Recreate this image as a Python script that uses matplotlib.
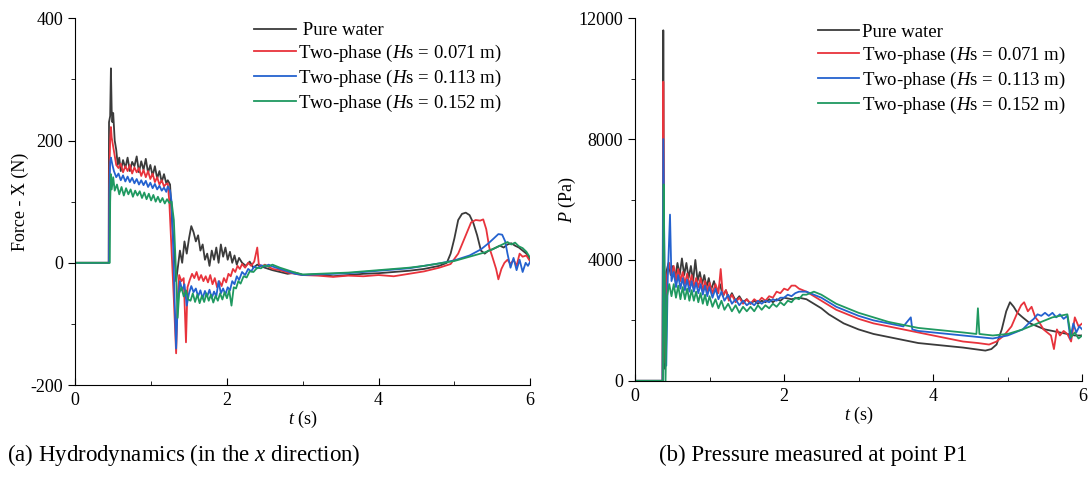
import matplotlib
matplotlib.use("Agg")
import matplotlib.pyplot as plt
from matplotlib.ticker import MultipleLocator

plt.rcParams['font.family'] = ['Liberation Serif', 'DejaVu Serif']
plt.rcParams['mathtext.fontset'] = 'custom'
plt.rcParams['mathtext.rm'] = 'Liberation Serif'
plt.rcParams['mathtext.it'] = 'Liberation Serif:italic'
plt.rcParams['axes.unicode_minus'] = False

labels_a = [" Pure water", "Two-phase ($H$s = 0.071 m)",
            "Two-phase ($H$s = 0.113 m)", "Two-phase ($H$s = 0.152 m)"]
labels_b = ["Pure water", "Two-phase ($H$s = 0.071 m)",
            "Two-phase ($H$s = 0.113 m)", "Two-phase ($H$s = 0.152 m)"]
colors = ["#3b3b3b", "#e8333c", "#2462cf", "#1f9960"]

# ---------------- (a) Force - X (N) vs t (s) ----------------
force_pure = [(0,0),(0.44,0),(0.445,230),(0.46,240),(0.47,318),(0.48,250),(0.49,230),(0.50,245),
    (0.52,200),(0.54,185),(0.56,160),(0.58,172),(0.60,150),(0.63,168),(0.66,155),(0.69,172),
    (0.72,150),(0.75,165),(0.78,158),(0.81,174),(0.84,148),(0.87,166),(0.90,152),(0.93,170),
    (0.96,147),(0.99,160),(1.02,142),(1.05,158),(1.08,138),(1.11,150),(1.14,132),(1.17,145),
    (1.20,130),(1.22,135),(1.25,128),(1.28,60),(1.31,10),(1.33,-30),(1.35,-10),(1.38,20),
    (1.41,0),(1.44,35),(1.47,15),(1.50,40),(1.53,60),(1.56,50),(1.59,35),(1.62,45),(1.65,20),
    (1.68,30),(1.71,5),(1.74,15),(1.77,-5),(1.80,20),(1.83,5),(1.86,25),(1.89,0),(1.92,30),
    (1.95,10),(1.98,25),(2.01,5),(2.04,18),(2.07,0),(2.10,12),(2.13,-3),(2.16,8),(2.20,0),
    (2.25,-5),(2.30,2),(2.35,-8),(2.40,-3),(2.50,-8),(2.60,-12),(2.70,-15),(2.80,-18),
    (2.90,-16),(3.00,-20),(3.20,-19),(3.40,-22),(3.60,-20),(3.80,-18),(4.00,-17),(4.20,-15),
    (4.40,-13),(4.60,-10),(4.80,-5),(4.90,0),(4.95,15),(5.00,40),(5.05,70),(5.10,80),(5.15,82),
    (5.20,78),(5.25,65),(5.30,45),(5.35,20),(5.40,15),(5.45,20),(5.50,22),(5.55,25),(5.60,28),
    (5.65,25),(5.70,30),(5.75,32),(5.80,28),(5.85,25),(5.90,20),(5.95,15),(6.00,5)]

force_071 = [(0,0),(0.445,0),(0.45,150),(0.46,200),(0.47,222),(0.48,205),(0.50,190),(0.52,175),
    (0.54,160),(0.57,155),(0.60,162),(0.63,148),(0.66,158),(0.69,150),(0.72,160),(0.75,146),
    (0.78,156),(0.81,148),(0.84,155),(0.87,142),(0.90,152),(0.93,140),(0.96,150),(0.99,137),
    (1.02,146),(1.05,132),(1.08,140),(1.11,128),(1.14,135),(1.17,125),(1.19,128),(1.22,130),
    (1.24,100),(1.27,20),(1.30,-60),(1.33,-148),(1.35,-60),(1.37,-20),(1.40,-30),(1.43,-25),
    (1.46,-130),(1.48,-40),(1.51,-28),(1.54,-18),(1.57,-25),(1.60,-15),(1.63,-28),(1.66,-20),
    (1.69,-30),(1.72,-22),(1.75,-32),(1.78,-20),(1.81,-35),(1.84,-25),(1.87,-40),(1.90,-30),
    (1.93,-38),(1.96,-25),(1.99,-32),(2.02,-18),(2.05,-22),(2.08,-10),(2.11,-15),(2.14,-5),
    (2.17,-10),(2.20,-2),(2.24,-8),(2.28,0),(2.32,-5),(2.36,2),(2.40,25),(2.42,-2),(2.46,-6),
    (2.50,-3),(2.6,-10),(2.7,-12),(2.8,-16),(2.9,-18),(3.0,-20),(3.2,-21),(3.4,-23),(3.6,-21),
    (3.8,-22),(4.0,-20),(4.2,-22),(4.4,-18),(4.6,-14),(4.8,-8),(4.95,-2),(5.05,15),(5.15,45),
    (5.22,66),(5.28,70),(5.34,69),(5.38,71),(5.42,55),(5.46,25),(5.50,10),(5.55,-10),(5.58,-27),
    (5.62,-10),(5.66,0),(5.70,5),(5.74,-2),(5.78,5),(5.82,-5),(5.86,15),(5.90,10),(5.95,12),
    (6.0,2)]

force_113 = [(0,0),(0.445,0),(0.45,120),(0.46,165),(0.47,172),(0.49,160),(0.51,150),(0.54,140),
    (0.57,146),(0.60,135),(0.63,143),(0.66,133),(0.69,141),(0.72,132),(0.75,139),(0.78,130),
    (0.81,137),(0.84,128),(0.87,135),(0.90,127),(0.93,134),(0.96,124),(0.99,131),(1.02,122),
    (1.05,129),(1.08,120),(1.11,126),(1.14,118),(1.17,123),(1.20,116),(1.22,125),(1.25,118),
    (1.27,100),(1.29,30),(1.31,-60),(1.33,-140),(1.35,-70),(1.38,-30),(1.41,-45),(1.44,-35),
    (1.47,-70),(1.50,-50),(1.53,-38),(1.56,-48),(1.59,-42),(1.62,-55),(1.65,-45),(1.68,-58),
    (1.71,-46),(1.74,-55),(1.77,-44),(1.80,-58),(1.83,-47),(1.86,-55),(1.89,-30),(1.92,-50),
    (1.95,-42),(1.98,-52),(2.01,-40),(2.04,-45),(2.07,-30),(2.10,-35),(2.13,-22),(2.16,-28),
    (2.20,-15),(2.24,-20),(2.28,-10),(2.32,-14),(2.36,-6),(2.40,-9),(2.45,-4),(2.50,-6),
    (2.55,-3),(2.6,-6),(2.7,-10),(2.8,-14),(2.9,-18),(3.0,-20),(3.2,-19),(3.4,-18),(3.6,-17),
    (3.8,-15),(4.0,-13),(4.2,-11),(4.4,-9),(4.6,-5),(4.8,-1),(5.0,4),(5.2,12),(5.35,22),
    (5.45,32),(5.52,40),(5.58,47),(5.63,46),(5.67,35),(5.70,15),(5.74,-8),(5.78,8),(5.82,-12),
    (5.86,5),(5.90,-15),(5.94,0),(5.97,-5),(6.0,2)]

force_152 = [(0,0),(0.455,0),(0.46,100),(0.47,145),(0.48,120),(0.50,140),(0.52,118),(0.55,128),
    (0.58,112),(0.61,124),(0.64,110),(0.67,122),(0.70,112),(0.73,120),(0.76,108),(0.79,118),
    (0.82,110),(0.85,117),(0.88,106),(0.91,115),(0.94,104),(0.97,113),(1.00,102),(1.03,111),
    (1.06,100),(1.09,108),(1.12,99),(1.15,106),(1.18,97),(1.21,104),(1.24,98),(1.27,100),
    (1.30,70),(1.33,-20),(1.35,-90),(1.37,-50),(1.40,-40),(1.43,-55),(1.46,-45),(1.49,-60),
    (1.52,-62),(1.55,-50),(1.58,-64),(1.61,-52),(1.64,-66),(1.67,-54),(1.70,-64),(1.73,-50),
    (1.76,-62),(1.79,-52),(1.82,-65),(1.85,-54),(1.88,-62),(1.91,-50),(1.94,-60),(1.97,-48),
    (2.00,-58),(2.03,-45),(2.06,-70),(2.09,-40),(2.12,-42),(2.15,-30),(2.18,-34),(2.22,-22),
    (2.26,-24),(2.30,-14),(2.35,-15),(2.40,-8),(2.45,-9),(2.50,-4),(2.55,-6),(2.6,-3),(2.7,-8),
    (2.8,-12),(2.9,-16),(3.0,-19),(3.2,-18),(3.4,-17),(3.6,-16),(3.8,-14),(4.0,-12),(4.2,-10),
    (4.4,-8),(4.6,-5),(4.8,-1),(5.0,3),(5.2,10),(5.4,17),(5.5,22),(5.6,28),(5.7,34),(5.75,30),
    (5.8,33),(5.85,27),(5.9,24),(5.95,18),(6.0,8)]

# ---------------- (b) P (Pa) at P1 vs t (s) ----------------
pres_pure = [(0,0),(0.37,0),(0.38,11600),(0.39,3000),(0.40,400),(0.42,3600),(0.45,3900),
    (0.48,3500),(0.51,3800),(0.54,3400),(0.57,3900),(0.60,3500),(0.63,4050),(0.66,3500),
    (0.69,3900),(0.72,3400),(0.75,3800),(0.78,3300),(0.81,4000),(0.84,3300),(0.87,3600),
    (0.90,3200),(0.93,3500),(0.96,3100),(0.99,3400),(1.02,3000),(1.06,3300),(1.10,2900),
    (1.14,3200),(1.18,2800),(1.22,3000),(1.26,2700),(1.30,2900),(1.35,2650),(1.40,2800),
    (1.45,2600),(1.50,2700),(1.55,2550),(1.60,2650),(1.65,2550),(1.70,2650),(1.75,2600),
    (1.80,2700),(1.85,2600),(1.90,2700),(1.95,2650),(2.00,2750),(2.10,2700),(2.20,2750),
    (2.30,2700),(2.40,2550),(2.50,2400),(2.60,2200),(2.70,2050),(2.80,1900),(2.90,1800),
    (3.00,1700),(3.20,1550),(3.40,1450),(3.60,1350),(3.80,1250),(4.00,1200),(4.20,1150),
    (4.40,1100),(4.55,1050),(4.70,1000),(4.78,1050),(4.85,1200),(4.92,1700),(4.98,2300),
    (5.03,2600),(5.08,2450),(5.13,2250),(5.20,2100),(5.30,1900),(5.40,1800),(5.50,1700),
    (5.60,1650),(5.70,1600),(5.80,1550),(5.90,1500),(6.00,1500)]

pres_071 = [(0,0),(0.37,0),(0.38,9900),(0.395,2500),(0.41,600),(0.43,3500),(0.46,3900),
    (0.49,3500),(0.52,3800),(0.55,3300),(0.58,3700),(0.61,3300),(0.64,3600),(0.67,3200),
    (0.70,3550),(0.73,3150),(0.76,3500),(0.79,3100),(0.82,3400),(0.85,3100),(0.88,3400),
    (0.91,3000),(0.94,3300),(0.97,2950),(1.00,3250),(1.04,2900),(1.08,3200),(1.12,2900),
    (1.15,3700),(1.18,2800),(1.22,3000),(1.26,2650),(1.30,2850),(1.35,2600),(1.40,2750),
    (1.45,2550),(1.50,2700),(1.55,2550),(1.60,2700),(1.65,2600),(1.70,2750),(1.75,2650),
    (1.80,2800),(1.85,2750),(1.90,2950),(1.95,2900),(2.00,3050),(2.05,3000),(2.10,3150),
    (2.15,3150),(2.20,3050),(2.30,2950),(2.40,2800),(2.50,2650),(2.60,2500),(2.70,2350),
    (2.80,2250),(2.90,2150),(3.00,2050),(3.20,1900),(3.40,1800),(3.60,1700),(3.80,1600),
    (4.00,1500),(4.20,1400),(4.40,1300),(4.60,1250),(4.75,1200),(4.85,1300),(4.95,1500),
    (5.05,1800),(5.12,2200),(5.18,2500),(5.22,2600),(5.27,2300),(5.32,2450),(5.37,2100),
    (5.42,1950),(5.48,1700),(5.53,1600),(5.58,1500),(5.62,1050),(5.66,1700),(5.70,1500),
    (5.75,1650),(5.80,1550),(5.85,1300),(5.90,2100),(5.95,1800),(6.00,1900)]

pres_113 = [(0,0),(0.37,0),(0.38,8000),(0.40,2800),(0.42,500),(0.44,3400),(0.47,5500),
    (0.49,3300),(0.52,3600),(0.55,3100),(0.58,3500),(0.61,3050),(0.64,3400),(0.67,3000),
    (0.70,3350),(0.73,2950),(0.76,3300),(0.79,2950),(0.82,3250),(0.85,2900),(0.88,3200),
    (0.91,2850),(0.94,3150),(0.97,2800),(1.00,3100),(1.04,2750),(1.08,3050),(1.12,2700),
    (1.16,2950),(1.20,2650),(1.25,2850),(1.30,2550),(1.35,2700),(1.40,2500),(1.45,2650),
    (1.50,2500),(1.55,2600),(1.60,2500),(1.65,2650),(1.70,2550),(1.75,2650),(1.80,2600),
    (1.85,2700),(1.90,2650),(1.95,2750),(2.00,2750),(2.05,2850),(2.10,2800),(2.15,2900),
    (2.20,2950),(2.30,2950),(2.40,2850),(2.50,2750),(2.60,2600),(2.70,2450),(2.80,2350),
    (2.90,2250),(3.00,2150),(3.20,2000),(3.40,1900),(3.60,1800),(3.70,2100),(3.72,1700),
    (3.80,1650),(4.00,1600),(4.20,1550),(4.40,1500),(4.60,1450),(4.80,1400),(4.90,1450),
    (5.00,1500),(5.10,1600),(5.20,1700),(5.30,1950),(5.35,2050),(5.40,2200),(5.45,2150),
    (5.50,2250),(5.55,2150),(5.60,2250),(5.65,2100),(5.70,2200),(5.75,2050),(5.80,2150),
    (5.84,1400),(5.88,1900),(5.92,1600),(5.96,1800),(6.00,1700)]

pres_152 = [(0,0),(0.375,0),(0.385,6500),(0.40,2500),(0.41,0),(0.43,2800),(0.46,3200),
    (0.49,2800),(0.52,3200),(0.55,2750),(0.58,3150),(0.61,2700),(0.64,3100),(0.67,2700),
    (0.70,3050),(0.73,2650),(0.76,3000),(0.79,2650),(0.82,2950),(0.85,2600),(0.88,2900),
    (0.91,2550),(0.94,2850),(0.97,2500),(1.00,2800),(1.04,2450),(1.08,2700),(1.12,2400),
    (1.16,2650),(1.20,2350),(1.25,2550),(1.30,2300),(1.35,2500),(1.40,2250),(1.45,2450),
    (1.50,2300),(1.55,2450),(1.60,2300),(1.65,2500),(1.70,2350),(1.75,2500),(1.80,2400),
    (1.85,2550),(1.90,2450),(1.95,2600),(2.00,2500),(2.05,2650),(2.10,2600),(2.15,2750),
    (2.20,2700),(2.25,2850),(2.30,2850),(2.40,2950),(2.50,2850),(2.60,2700),(2.70,2550),
    (2.80,2450),(2.90,2350),(3.00,2250),(3.20,2100),(3.40,1950),(3.60,1850),(3.80,1750),
    (4.00,1700),(4.20,1650),(4.40,1600),(4.58,1550),(4.60,2400),(4.62,1550),(4.80,1500),
    (5.00,1550),(5.20,1700),(5.40,1900),(5.50,2000),(5.60,2100),(5.70,2150),(5.80,2200),
    (5.85,1450),(5.90,1600),(5.95,1400),(6.00,1500)]

force_series = [force_pure, force_071, force_113, force_152]
pres_series = [pres_pure, pres_071, pres_113, pres_152]

fig = plt.figure(figsize=(10.91, 4.79), dpi=100)
ax1 = fig.add_axes([0.069, 0.196, 0.417, 0.766])
ax2 = fig.add_axes([0.582, 0.205, 0.410, 0.757])

for ax, series, labs, anchor in ((ax1, force_series, labels_a, (0.955, 1.01)),
                                 (ax2, pres_series, labels_b, (0.98, 1.005))):
    for data, c, lab in zip(series, colors, labs):
        t, y = zip(*data)
        ax.plot(t, y, color=c, lw=1.3, label=lab)
    for s in ("top", "right"):
        ax.spines[s].set_visible(False)
    ax.set_xlim(0, 6)
    ax.xaxis.set_major_locator(MultipleLocator(2))
    ax.xaxis.set_minor_locator(MultipleLocator(1))
    ax.tick_params(axis="x", which="both", direction="in", labelsize=13, pad=5)
    ax.tick_params(axis="x", which="major", length=5)
    ax.tick_params(axis="x", which="minor", length=3)
    ax.tick_params(axis="y", which="both", direction="out", labelsize=13)
    ax.tick_params(axis="y", which="major", length=5)
    ax.tick_params(axis="y", which="minor", length=3)
    ax.set_xlabel("$t$ (s)", fontsize=13, labelpad=0)
    ax.legend(loc="upper right", bbox_to_anchor=anchor, frameon=False, fontsize=13.5,
              handlelength=2.2, handletextpad=0.15, labelspacing=0.2, borderaxespad=0.0)

ax1.set_ylim(-200, 400)
ax1.yaxis.set_major_locator(MultipleLocator(200))
ax1.yaxis.set_minor_locator(MultipleLocator(100))
ax1.set_ylabel("Force - X (N)", fontsize=13, labelpad=1)

ax2.set_ylim(0, 12000)
ax2.yaxis.set_major_locator(MultipleLocator(4000))
ax2.yaxis.set_minor_locator(MultipleLocator(2000))
ax2.set_ylabel("$P$ (Pa)", fontsize=13, labelpad=0)

fig.text(0.168, 0.05, "(a) Hydrodynamics (in the $x$ direction)", ha="center", va="center", fontsize=16.5)
fig.text(0.745, 0.05, "(b) Pressure measured at point P1", ha="center", va="center", fontsize=16.5)

fig.savefig("out.png", dpi=100, facecolor="white")
